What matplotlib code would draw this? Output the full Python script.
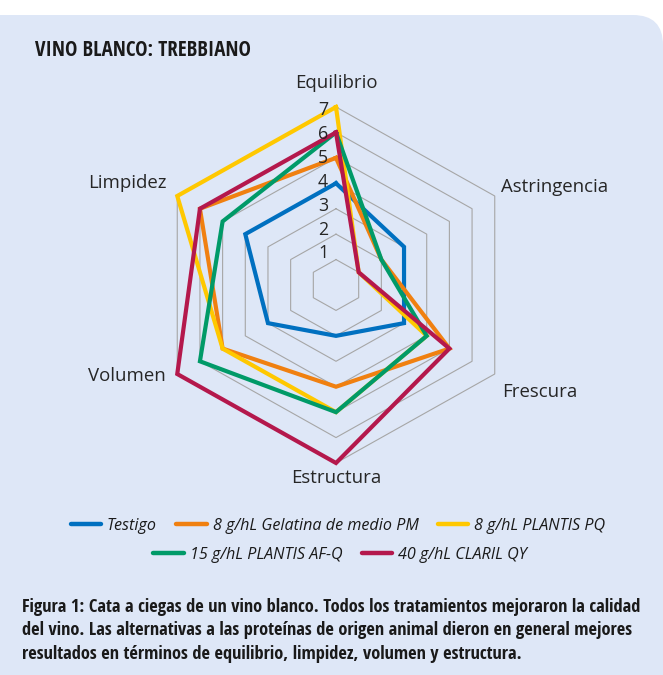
import numpy as np
import matplotlib
matplotlib.use("Agg")
import matplotlib.pyplot as plt
from matplotlib import font_manager
from matplotlib.path import Path
from matplotlib.patches import PathPatch
from matplotlib.lines import Line2D
import matplotlib.transforms as mtransforms

# ---------------- data ----------------
categories = ["Equilibrio", "Astringencia", "Frescura", "Estructura", "Volumen", "Limpidez"]
series_names = ["Testigo", "8 g/hL Gelatina de medio PM", "8 g/hL PLANTIS PQ",
                "15 g/hL PLANTIS AF-Q", "40 g/hL CLARIL QY"]
testigo = [4, 3, 3, 2, 3, 4]
gelatina = [5, 2, 5, 4, 5, 6]
plantis_pq = [7, 1, 4, 5, 5, 7]
plantis_afq = [6, 2, 4, 5, 6, 5]
claril_qy = [6, 1, 5, 7, 7, 6]
series_values = [testigo, gelatina, plantis_pq, plantis_afq, claril_qy]
series_colors = ["#0070C0", "#F08010", "#FFC800", "#009A68", "#B4184C"]
r_ticks = [1, 2, 3, 4, 5, 6, 7]
title = "VINO BLANCO: TREBBIANO"
caption = ("Figura 1: Cata a ciegas de un vino blanco. Todos los tratamientos mejoraron la calidad\n"
           "del vino. Las alternativas a las proteínas de origen animal dieron en general mejores\n"
           "resultados en términos de equilibrio, limpidez, volumen y estructura.")

# ---------------- fonts ----------------
names = {f.name for f in font_manager.fontManager.ttflist}
base = "Open Sans" if "Open Sans" in names else "DejaVu Sans"
narrow = base
for cand in ["Open Sans Condensed", "Liberation Sans Narrow", "Roboto Condensed"]:
    if cand in names:
        narrow = cand
        break
has_lsn = "Liberation Sans Narrow" in names
plt.rcParams["font.family"] = [base, "DejaVu Sans"]

W, H = 663, 675
fig = plt.figure(figsize=(W / 100, H / 100), dpi=100, facecolor="white")

# ---------------- background panel ----------------
def px(x, y):
    return (x / 100.0, (H - y) / 100.0)

top, rad_tr = 15, 30
verts, codes = [], []
def add(p, c):
    verts.append(px(*p)); codes.append(c)
add((0, top), Path.MOVETO)
add((W - rad_tr, top), Path.LINETO)
add((W, top), Path.CURVE3)
add((W, top + rad_tr), Path.CURVE3)
add((W, H + 40), Path.LINETO)
add((32, H + 40), Path.LINETO)
add((0, H + 40), Path.CURVE3)
add((0, H + 40 - 32), Path.CURVE3)
add((0, top), Path.CLOSEPOLY)
panel = PathPatch(Path(verts, codes), facecolor="#DEE7F7", edgecolor="none",
                  transform=fig.dpi_scale_trans, zorder=-10)
fig.patches.append(panel)

# ---------------- radar ----------------
cx, cy, Ry, Rx = 336, 285, 178, 183.3
ax = fig.add_axes([(cx - Rx) / W, (H - cy - Ry) / H, 2 * Rx / W, 2 * Ry / H], projection="polar")
ax.set_aspect("auto")
ax.set_zorder(1)
ax.set_facecolor("none")
ax.set_theta_zero_location("N")
ax.set_theta_direction(-1)
ax.set_ylim(0, 7)
ax.grid(False)
ax.spines["polar"].set_visible(False)
ax.set_xticks([])
ax.set_yticks([])

n = len(categories)
theta = np.deg2rad(np.arange(n) * 360.0 / n)
theta_c = np.append(theta, theta[0])

tick_shift = ax.transData + mtransforms.ScaledTranslation(-8 / 100, 0, fig.dpi_scale_trans)
for r in r_ticks:
    ax.plot(theta_c, [r] * (n + 1), color="#A6A6A6", lw=0.8, zorder=1, clip_on=False)
    ax.text(0, 0.3 + 0.94 * r, str(r), ha="right", va="center", fontsize=12.8,
            color="#262626", transform=tick_shift, zorder=5)

for vals, col in zip(series_values, series_colors):
    v = list(vals) + [vals[0]]
    ax.plot(theta_c, v, color=col, lw=3.0, solid_joinstyle="miter", zorder=3, clip_on=False)

label_offsets = [(0, 17.3, "center", "center"), (4.5, 6.5, "left", "center"),
                 (5, -12.7, "left", "center"), (0, -11, "center", "center"),
                 (-8.6, -1.5, "right", "center"), (-7.4, 9.4, "right", "center")]
for cat, th, (dx, dy, ha, va) in zip(categories, theta, label_offsets):
    ax.annotate(cat, xy=(th, 7), xytext=(dx, dy), textcoords="offset points",
                ha=ha, va=va, fontsize=13.4, color="#262626", annotation_clip=False)

# ---------------- title ----------------
fig.text(35 / W, 1 - 50 / H, title, fontsize=15, fontweight="bold", family=[narrow, "DejaVu Sans"],
         color="#1a1a1a", ha="left", va="center")

# ---------------- legend ----------------
if has_lsn:
    leg_prop = {"family": ["Liberation Sans Narrow", "DejaVu Sans"], "style": "italic", "size": 13}
else:
    leg_prop = {"family": [base, "DejaVu Sans"], "style": "italic", "size": 11.6}
handles = [Line2D([], [], color=c, lw=3.2, solid_capstyle="round") for c in series_colors]
leg_kw = dict(frameon=False, handlelength=1.9, handletextpad=0.35, columnspacing=1.2, prop=leg_prop)
l1 = fig.legend(handles[:3], series_names[:3], loc="center", bbox_to_anchor=(338 / W, 1 - 526 / H),
                ncol=3, **leg_kw)
l2 = fig.legend(handles[3:], series_names[3:], loc="center", bbox_to_anchor=(340 / W, 1 - 555 / H),
                ncol=2, **leg_kw)
for lg in (l1, l2):
    for t in lg.get_texts():
        t.set_color("#1a1a1a")

# ---------------- caption ----------------
if has_lsn:
    cap_kw = dict(family=["Liberation Sans Narrow", "DejaVu Sans"], fontweight="bold",
                  fontstyle="italic", fontsize=14)
else:
    cap_kw = dict(family=[narrow, "DejaVu Sans"], fontweight="bold", fontsize=13.2)
fig.text(22 / W, 1 - 598 / H, caption, color="#1a1a1a", ha="left", va="top", linespacing=1.38, **cap_kw)

fig.savefig("out.png", dpi=100, facecolor="white")
